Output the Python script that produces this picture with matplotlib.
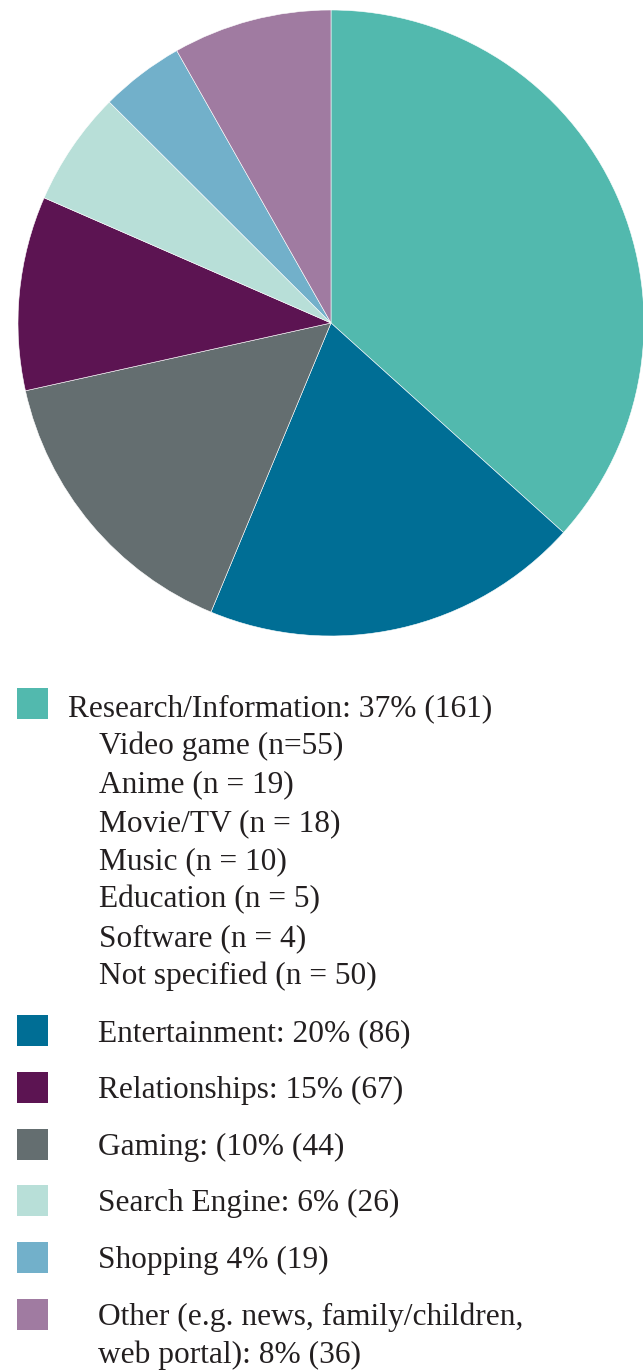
import matplotlib
matplotlib.use("Agg")
import matplotlib.pyplot as plt
from matplotlib.patches import Rectangle

# pie slices, clockwise from 12 o'clock
slice_values = [161, 86, 67, 44, 26, 19, 36]
slice_colors = ["#52b9ae", "#006e95", "#646e70", "#5c1452", "#b8dfd8", "#72b0ca", "#a07ba1"]

# legend entries (as printed)
legend_labels = [
    "Research/Information: 37% (161)",
    "Entertainment: 20% (86)",
    "Relationships: 15% (67)",
    "Gaming: (10% (44)",
    "Search Engine: 6% (26)",
    "Shopping 4% (19)",
    "Other (e.g. news, family/children,\nweb portal): 8% (36)",
]
legend_colors = ["#52b9ae", "#006e95", "#5c1452", "#646e70", "#b8dfd8", "#72b0ca", "#a07ba1"]
sub_labels = [
    "Video game (n=55)",
    "Anime (n = 19)",
    "Movie/TV (n = 18)",
    "Music (n = 10)",
    "Education (n = 5)",
    "Software (n = 4)",
    "Not specified (n = 50)",
]

W, H = 643, 1371
fig = plt.figure(figsize=(W / 100, H / 100), dpi=100)

# pie
cx, cy, r = 331, 323, 313
ax = fig.add_axes([(cx - r) / W, 1 - (cy + r) / H, 2 * r / W, 2 * r / H])
ax.pie(slice_values, colors=slice_colors, startangle=90, counterclock=False,
       radius=1, wedgeprops=dict(edgecolor="white", linewidth=0.4))
ax.set_xlim(-1, 1)
ax.set_ylim(-1, 1)
ax.axis("off")

# legend, drawn in pixel coordinates
lg = fig.add_axes([0, 0, 1, 1])
lg.set_xlim(0, W)
lg.set_ylim(H, 0)
lg.axis("off")

font = dict(family="Liberation Serif", size=22.6, color="#231f20", va="baseline")

# first entry with its sub-list
lg.add_patch(Rectangle((17, 688), 31, 31, color=legend_colors[0], lw=0))
lg.text(68, 716, legend_labels[0], **font)
for k, lab in enumerate(sub_labels):
    lg.text(99, 716 + 38.3 * (k + 1), lab, **font)

# remaining entries
for i, (lab, col) in enumerate(zip(legend_labels[1:], legend_colors[1:])):
    top = 1015 + 56.8 * i
    lg.add_patch(Rectangle((17, top), 31, 31, color=col, lw=0))
    for j, line in enumerate(lab.split("\n")):
        lg.text(98, top + 26 + 38 * j, line, **font)

fig.savefig("out.png", dpi=100, facecolor="white")
